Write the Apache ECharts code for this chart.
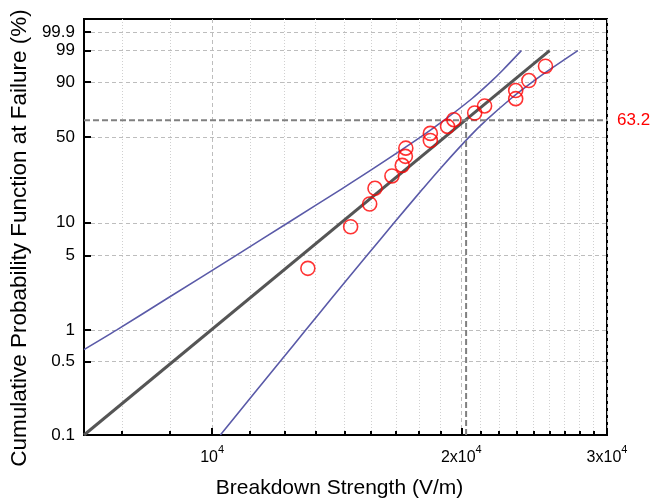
<!DOCTYPE html>
<html><head><meta charset="utf-8">
<script src="https://cdn.jsdelivr.net/npm/echarts@6/dist/echarts.min.js"></script>
<style>html,body{margin:0;padding:0;background:#fff}#c{width:660px;height:504px}</style>
</head><body><div id="c"></div>
<script>
// ---- data ----
const strength = [13050, 14700, 15500, 15730, 16490, 16970, 17120, 17140, 18350, 18350, 19250, 19590, 20760, 21340, 23270, 23270, 24140, 25280];
const failurePct = [3.8, 9.2, 14.7, 20.1, 25.5, 31.0, 36.4, 41.8, 47.3, 52.7, 58.2, 63.6, 69.0, 74.5, 79.9, 85.3, 90.8, 96.2];
const fitX = [7000, 25570];
const fitPct = [0.1, 99];
const upperX = [7000, 7670, 8840, 10680, 12350, 14360, 15750, 17870, 19070, 20610, 21690, 22440, 23640];
const upperPct = [0.65, 1, 2, 5, 10, 20, 30, 50, 63.2, 80, 90, 95, 99];
const lowerX = [10230, 12080, 12980, 13950, 15380, 16590, 17980, 18930, 20450, 21440, 22970, 24360, 25520, 27660];
const lowerPct = [0.1, 0.5, 1, 2, 5, 10, 20, 30, 50, 63.2, 80, 90, 95, 99];
const charLife = 20270;
const charPct = 63.2;
const xRange = [7000, 30000];
const yRange = [0.1, 99.99];
const yTicks = [0.1, 0.5, 1, 5, 10, 50, 90, 99, 99.9];
const yTickLabels = ['0.1', '0.5', '1', '5', '10', '50', '90', '99', '99.9'];
const xMajorTicks = [10000, 20000, 30000];
const xMajorMantissa = ['', '2x', '3x'];
const xMinorTicks = [7778, 8889, 11111, 12222, 13333, 14444, 15556, 16667, 17778, 18889,
  21111, 22222, 23333, 24444, 25556, 26667, 27778, 28889];

// ---- scale transforms (log10 for x, Weibull for y) ----
const lx = v => Math.log10(v);
const wy = p => Math.log(-Math.log(1 - p / 100));
const pair = (xs, ps) => xs.map((x, i) => [lx(x), wy(ps[i])]);
const X_MIN = lx(xRange[0]), X_MAX = lx(xRange[1]);
const Y_MIN = wy(yRange[0]), Y_MAX = wy(yRange[1]);
const FONT = 'Liberation Sans, Arial, sans-serif';

const yTickVals = yTicks.map(wy);
const xMajorVals = xMajorTicks.map(lx);

const chart = echarts.init(document.getElementById('c'), null, { renderer: 'canvas' });
chart.setOption({
  animation: false,
  backgroundColor: '#fff',
  grid: { left: 84, right: 53, top: 19, bottom: 65, show: true, borderColor: '#000', borderWidth: 2, backgroundColor: 'transparent' },
  xAxis: [{
    type: 'value', min: X_MIN, max: X_MAX, position: 'bottom',
    axisLine: { show: true, onZero: false, lineStyle: { color: '#000', width: 2 } },
    axisTick: { show: true, inside: true, length: 7, customValues: xMajorVals, lineStyle: { color: '#000', width: 2 } },
    axisLabel: {
      customValues: xMajorVals, margin: 9, color: '#000', fontFamily: FONT,
      formatter: v => {
        const i = xMajorVals.findIndex(t => Math.abs(t - v) < 1e-9);
        return '{n|' + xMajorMantissa[i] + '10}{s|4}';
      },
      rich: {
        n: { fontSize: 16, fontFamily: FONT, color: '#000', lineHeight: 22, verticalAlign: 'bottom' },
        s: { fontSize: 11, fontFamily: FONT, color: '#000', lineHeight: 11, verticalAlign: 'top' }
      }
    },
    splitLine: { show: true, lineStyle: { color: '#bdbdbd', width: 1, type: [4, 3] } },
    name: 'Breakdown Strength (V/m)', nameLocation: 'middle', nameGap: 43,
    nameTextStyle: { fontSize: 21, fontFamily: FONT, color: '#000', padding: [0, 12, 0, 0] }
  }, {
    type: 'value', min: X_MIN, max: X_MAX, position: 'bottom', gridIndex: 0,
    axisLine: { show: false, onZero: false },
    axisTick: { show: true, inside: true, length: 4, customValues: xMinorTicks.map(lx), lineStyle: { color: '#000', width: 2 } },
    axisLabel: { show: false },
    splitLine: { show: true, lineStyle: { color: '#d0d0d0', width: 1, type: [1, 2] } }
  }],
  yAxis: {
    type: 'value', min: Y_MIN, max: Y_MAX,
    axisLine: { show: true, onZero: false, lineStyle: { color: '#000', width: 2 } },
    axisTick: { show: true, inside: true, length: 7, customValues: yTickVals, lineStyle: { color: '#000', width: 2 } },
    axisLabel: {
      customValues: yTickVals, margin: 9, color: '#000', fontSize: 17, fontFamily: FONT,
      verticalAlign: 'middle', verticalAlignMinLabel: 'middle', verticalAlignMaxLabel: 'middle',
      formatter: v => {
        const i = yTickVals.findIndex(t => Math.abs(t - v) < 1e-9);
        return yTickLabels[i];
      }
    },
    splitLine: { show: true, lineStyle: { color: '#bdbdbd', width: 1, type: [4, 3] } },
    name: 'Cumulative Probability Function at Failure (%)', nameLocation: 'middle', nameGap: 49,
    nameTextStyle: { fontSize: 22.5, fontFamily: FONT, color: '#000', padding: [0, 22, 0, 0] }
  },
  series: [
    { type: 'line', name: 'upper', data: pair(upperX, upperPct), symbol: 'none', smooth: 0.3,
      lineStyle: { color: '#5a5aa8', width: 1.6 }, z: 2 },
    { type: 'line', name: 'lower', data: pair(lowerX, lowerPct), symbol: 'none', smooth: 0.3,
      lineStyle: { color: '#5a5aa8', width: 1.6 }, z: 2 },
    { type: 'line', name: 'fit', data: pair(fitX, fitPct), symbol: 'none',
      lineStyle: { color: '#555555', width: 3 }, z: 3 },
    { type: 'line', name: 'h632', data: pair(xRange, [charPct, charPct]), symbol: 'none',
      lineStyle: { color: '#808080', width: 2, type: [6, 3] }, z: 4,
      endLabel: { show: true, formatter: String(charPct), color: '#ff0000', fontSize: 17, fontFamily: FONT, distance: 10 } },
    { type: 'line', name: 'v632', data: pair([charLife, charLife], [yRange[0], charPct]), symbol: 'none',
      lineStyle: { color: '#808080', width: 2, type: [6, 3] }, z: 4 },
    { type: 'scatter', name: 'data', data: pair(strength, failurePct), symbol: 'circle', symbolSize: 14,
      itemStyle: { color: 'rgba(255,255,255,0)', borderColor: '#ff0000', borderWidth: 1.6 }, z: 5 }
  ]
});
</script></body></html>
